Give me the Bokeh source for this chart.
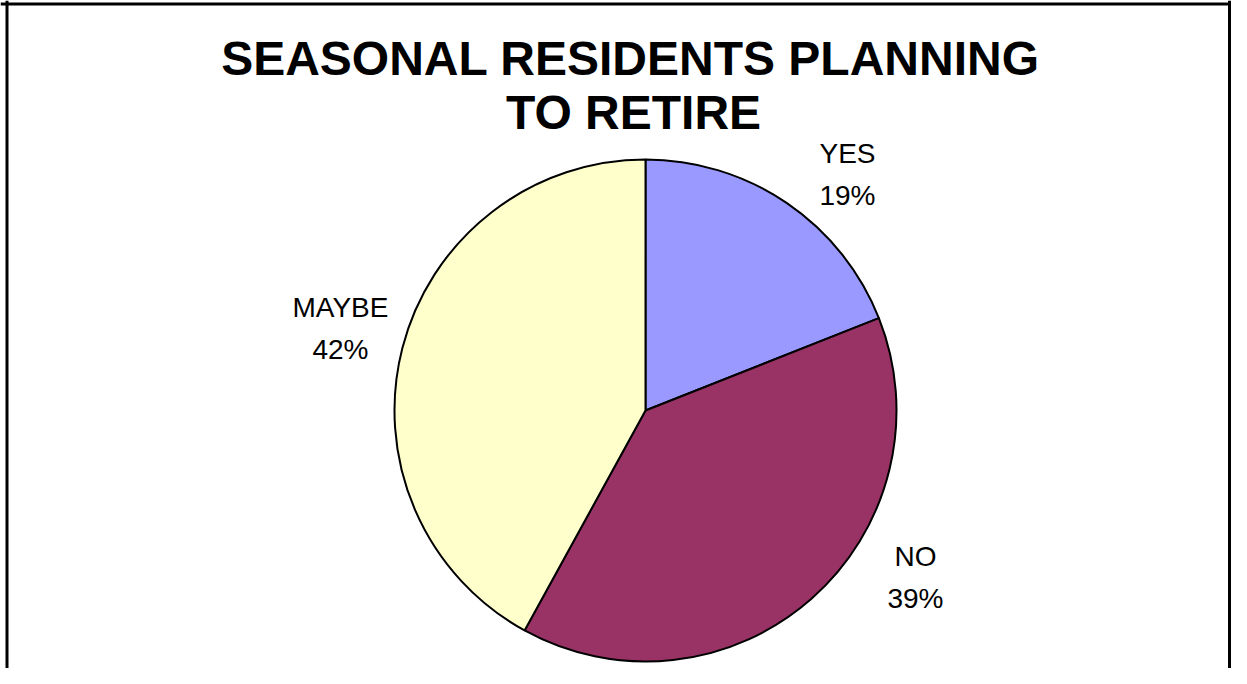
import numpy as np
from bokeh.plotting import figure
from bokeh.models import ColumnDataSource, Range1d, Span
from bokeh.core.properties import value
from bokeh.embed import file_html
from bokeh.resources import INLINE

# ---- data ----
categories = ["YES", "NO", "MAYBE"]
percents = [19, 39, 42]
colors = ["#9999FF", "#993366", "#FFFFCC"]
title_lines = ["SEASONAL RESIDENTS PLANNING", "TO RETIRE"]

# ---- layout (picture pixel coordinates; data units == pixels, y downward via py) ----
W, H = 1231, 668
def py(y):
    return H - y

cx, cy, R = 645, 410, 251
label_pos = [(847, 174), (915, 577), (340, 328)]   # centre of each two-line label
label_gap = 21                                       # half distance between label lines

p = figure(width=W, height=H, output_backend="svg", toolbar_location=None,
           x_range=Range1d(0, W), y_range=Range1d(0, H),
           min_border=0, outline_line_color=None)
p.axis.visible = False
p.grid.visible = False
p.background_fill_color = "white"
p.border_fill_color = "white"

# border (bottom edge lies outside the picture)
p.add_layout(Span(location=6.5, dimension="height", line_color="black", line_width=3))
p.add_layout(Span(location=W - 2, dimension="height", line_color="black", line_width=3))
p.add_layout(Span(location=py(3.5), dimension="width", line_color="black", line_width=3))

# pie: clockwise from 12 o'clock
vals = np.array(percents, dtype=float)
frac = vals / vals.sum()
cum = np.concatenate([[0], np.cumsum(frac)])
start = np.pi / 2 - 2 * np.pi * cum[:-1]
end = np.pi / 2 - 2 * np.pi * cum[1:]
src = ColumnDataSource(dict(start=start, end=end, color=colors, cat=categories))
p.wedge(x=cx, y=py(cy), radius=R, start_angle="start", end_angle="end",
        direction="clock", fill_color="color", line_color="black", line_width=2,
        source=src)

# labels
lx = [pos[0] for pos in label_pos]
ly_top = [py(pos[1] - label_gap) for pos in label_pos]
ly_bot = [py(pos[1] + label_gap) for pos in label_pos]
pct_txt = [f"{v}%" for v in percents]
p.text(x=lx, y=ly_top, text=categories, text_font=value("Liberation Sans"),
       text_font_size="28px", text_align="center", text_baseline="middle",
       text_color="black")
p.text(x=lx, y=ly_bot, text=pct_txt, text_font=value("Liberation Sans"),
       text_font_size="28px", text_align="center", text_baseline="middle",
       text_color="black")

# title
p.text(x=[630, 633], y=[py(58), py(112)], text=title_lines,
       text_font=value("Liberation Sans"), text_font_style="bold",
       text_font_size="48px", text_align="center", text_baseline="middle",
       text_color="black")

open("out.html", "w").write(file_html(p, INLINE))
